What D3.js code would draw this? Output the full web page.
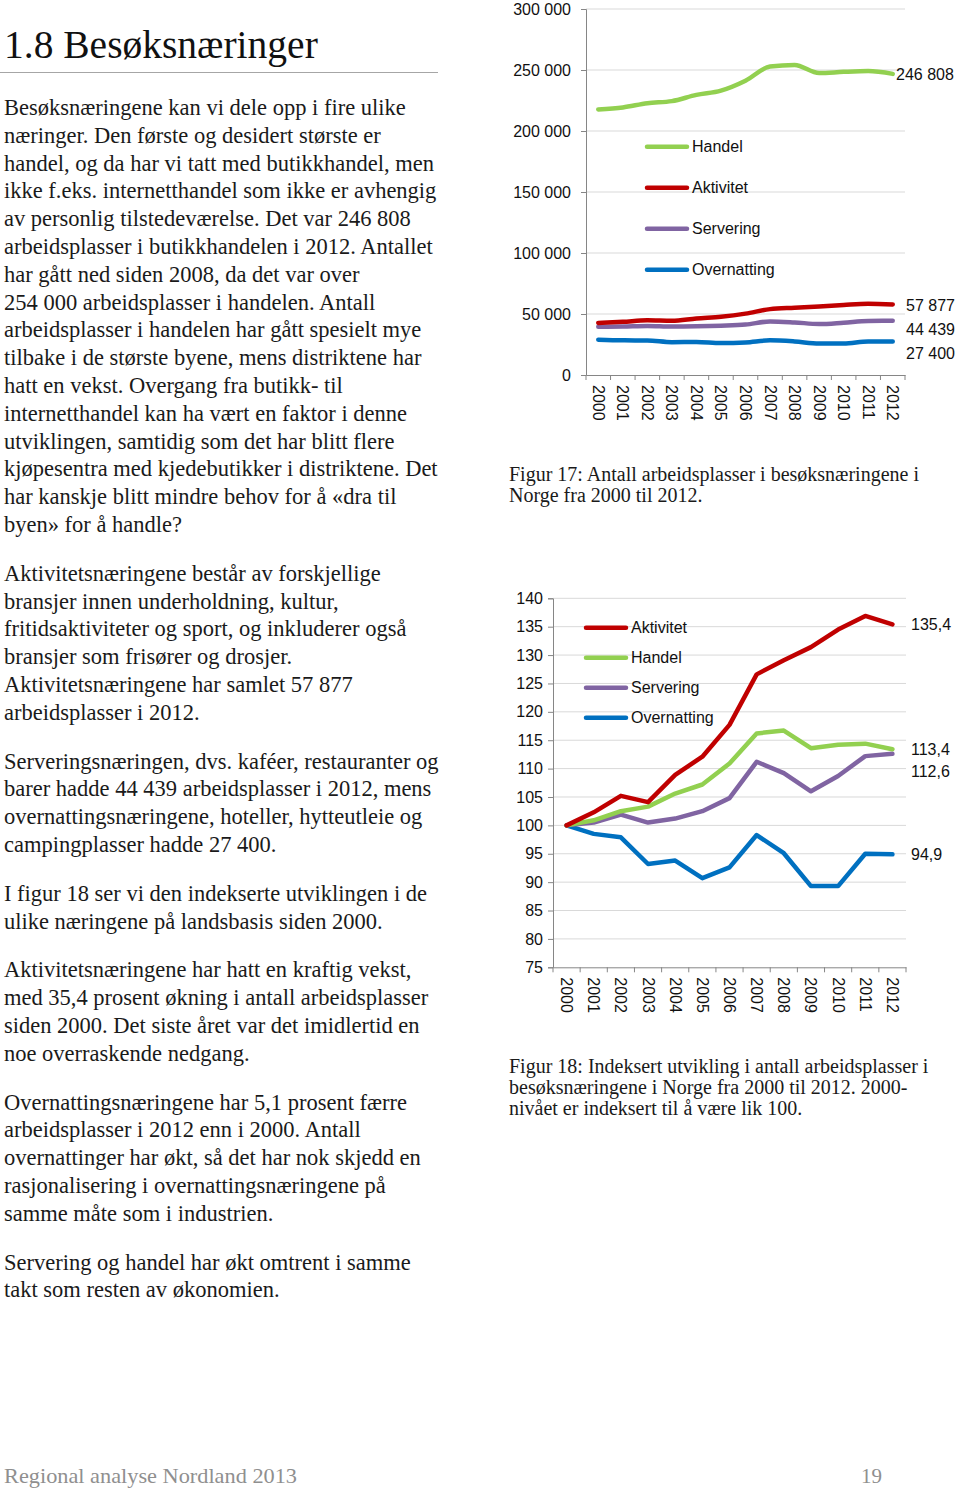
<!DOCTYPE html>
<html><head><meta charset="utf-8">
<script src="https://cdn.jsdelivr.net/npm/d3@7"></script>
<style>body{margin:0;background:#fff} svg{display:block}</style>
</head><body><svg id="c" width="960" height="1488"></svg>
<script>
// ---------- DATA ----------
const years = [2000,2001,2002,2003,2004,2005,2006,2007,2008,2009,2010,2011,2012];

// Figur 17: absolute number of jobs
const handelAbs      = [217700,219300,222800,224500,229600,233100,241200,252800,254100,247500,248500,249100,246808];
const aktivitetAbs   = [42700,43600,44800,44400,46400,47800,50300,54000,55100,56100,57400,58400,57877];
const serveringAbs   = [39500,39700,40200,39700,39900,40400,41300,43900,43100,41800,42900,44300,44439];
const overnattingAbs = [28900,28400,28300,26900,27100,26200,26700,28400,27500,25800,25800,27400,27400];
const absTicks = [0,50000,100000,150000,200000,250000,300000];
const absEndLabels = ["246 808","57 877","44 439","27 400"];

// Figur 18: indexed (2000 = 100)
const aktivitetIdx   = [100,102.3,105.2,104.1,108.9,112.1,117.7,126.6,129.1,131.4,134.5,136.9,135.4];
const handelIdx      = [100,100.9,102.5,103.3,105.6,107.2,110.9,116.2,116.7,113.6,114.2,114.4,113.4];
const serveringIdx   = [100,100.5,101.9,100.5,101.2,102.5,104.8,111.2,109.2,106.0,108.7,112.2,112.6];
const overnattingIdx = [100,98.5,97.9,93.2,93.8,90.7,92.6,98.3,95.1,89.3,89.3,95.0,94.9];
const idxTicks = [75,80,85,90,95,100,105,110,115,120,125,130,135,140];
const idxEndLabels = ["135,4","113,4","112,6","94,9"];

const legendTop = ["Handel","Aktivitet","Servering","Overnatting"];
const legendBottom = ["Aktivitet","Handel","Servering","Overnatting"];

const title = "1.8 Besøksnæringer";
const paragraphs = [
 ["Besøksnæringene kan vi dele opp i fire ulike",
  "næringer. Den første og desidert største er",
  "handel, og da har vi tatt med butikkhandel, men",
  "ikke f.eks. internetthandel som ikke er avhengig",
  "av personlig tilstedeværelse. Det var 246 808",
  "arbeidsplasser i butikkhandelen i 2012. Antallet",
  "har gått ned siden 2008, da det var over",
  "254 000 arbeidsplasser i handelen. Antall",
  "arbeidsplasser i handelen har gått spesielt mye",
  "tilbake i de største byene, mens distriktene har",
  "hatt en vekst. Overgang fra butikk- til",
  "internetthandel kan ha vært en faktor i denne",
  "utviklingen, samtidig som det har blitt flere",
  "kjøpesentra med kjedebutikker i distriktene. Det",
  "har kanskje blitt mindre behov for å «dra til",
  "byen» for å handle?"],
 ["Aktivitetsnæringene består av forskjellige",
  "bransjer innen underholdning, kultur,",
  "fritidsaktiviteter og sport, og inkluderer også",
  "bransjer som frisører og drosjer.",
  "Aktivitetsnæringene har samlet 57 877",
  "arbeidsplasser i 2012."],
 ["Serveringsnæringen, dvs. kaféer, restauranter og",
  "barer hadde 44 439 arbeidsplasser i 2012, mens",
  "overnattingsnæringene, hoteller, hytteutleie og",
  "campingplasser hadde 27 400."],
 ["I figur 18 ser vi den indekserte utviklingen i de",
  "ulike næringene på landsbasis siden 2000."],
 ["Aktivitetsnæringene har hatt en kraftig vekst,",
  "med 35,4 prosent økning i antall arbeidsplasser",
  "siden 2000. Det siste året var det imidlertid en",
  "noe overraskende nedgang."],
 ["Overnattingsnæringene har 5,1 prosent færre",
  "arbeidsplasser i 2012 enn i 2000. Antall",
  "overnattinger har økt, så det har nok skjedd en",
  "rasjonalisering i overnattingsnæringene på",
  "samme måte som i industrien."],
 ["Servering og handel har økt omtrent i samme",
  "takt som resten av økonomien."]
];
const caption17 = ["Figur 17: Antall arbeidsplasser i besøksnæringene i","Norge fra 2000 til 2012."];
const caption18 = ["Figur 18: Indeksert utvikling i antall arbeidsplasser i","besøksnæringene i Norge fra 2000 til 2012. 2000-","nivået er indeksert til å være lik 100."];
const footerLeft = "Regional analyse Nordland 2013";
const footerRight = "19";

// ---------- STYLE ----------
const C = {Handel:"#92d050", Aktivitet:"#c00000", Servering:"#8064a2", Overnatting:"#0070c0"};
const serif = "'Liberation Serif','DejaVu Serif',serif";
const sans = "'Liberation Sans',Arial,sans-serif";
const svg = d3.select("#c");
const loc = d3.formatLocale({decimal:",", thousands:" ", grouping:[3], currency:["",""]});
const fmt = loc.format(",d");

// ---------- LEFT TEXT ----------
svg.append("text").attr("x",4).attr("y",58).attr("font-family",serif).attr("font-size",39.5)
  .attr("fill","#111").text(title);
svg.append("line").attr("x1",0).attr("x2",438).attr("y1",72.5).attr("y2",72.5)
  .attr("stroke","#a6a6a6").attr("stroke-width",1.2);
let yb = 115;
const LH = 27.8, PG = 21;
paragraphs.forEach((p,pi)=>{
  p.forEach((line,li)=>{
    svg.append("text").attr("x",4).attr("y",yb).attr("font-family",serif).attr("font-size",22.5)
      .attr("fill","#1a1a1a").text(line);
    yb += LH;
  });
  yb += PG;
});
svg.append("text").attr("x",4).attr("y",1483).attr("font-family",serif).attr("font-size",21)
  .attr("fill","#8f8f8f").attr("textLength",293).attr("lengthAdjust","spacingAndGlyphs").text(footerLeft);
svg.append("text").attr("x",882).attr("y",1483).attr("text-anchor","end").attr("font-family",serif).attr("font-size",21)
  .attr("fill","#8f8f8f").text(footerRight);

// ---------- CHART HELPER ----------
function chart(o){
  const g = svg.append("g");
  const x = d3.scaleBand().domain(years).range([o.x0,o.x1]);
  const y = d3.scaleLinear().domain(o.dom).range([o.y0,o.y1]);
  g.selectAll(".grid").data(o.ticks.filter(t=>t!==o.dom[0])).join("line")
    .attr("x1",o.x0).attr("x2",o.x1).attr("y1",d=>y(d)).attr("y2",d=>y(d))
    .attr("stroke","#d9d9d9").attr("stroke-width",1);
  const ya = g.append("g").attr("transform",`translate(${o.x0},0)`)
    .call(d3.axisLeft(y).tickValues(o.ticks).tickSize(5).tickPadding(o.tpad).tickFormat(o.tf));
  ya.select(".domain").attr("stroke","#868686");
  ya.selectAll(".tick line").attr("stroke","#868686");
  ya.selectAll("text").attr("font-family",sans).attr("font-size",16).attr("fill","#111");
  const xa = g.append("g").attr("transform",`translate(0,${o.y0})`)
    .call(d3.axisBottom(x).tickSize(0).tickFormat(d=>d));
  xa.select(".domain").attr("stroke","#868686");
  xa.selectAll(".tick text").attr("font-family",sans).attr("font-size",16).attr("fill","#111")
    .attr("text-anchor","start").attr("dy",null)
    .attr("transform","translate(0,"+o.ylab+") rotate(90)").attr("y",0).attr("x",0)
    .attr("dominant-baseline","central");
  const bounds = years.map(d=>x(d)).concat([o.x1]);
  g.selectAll(".xt").data(bounds).join("line")
    .attr("x1",d=>d).attr("x2",d=>d).attr("y1",o.y0).attr("y2",o.y0+5)
    .attr("stroke","#868686");
  const line = d3.line().x((d,i)=>x(years[i])+x.bandwidth()/2).y(d=>y(d)).curve(o.curve);
  o.series.forEach(s=>{
    g.append("path").datum(s.v).attr("d",line).attr("fill","none")
      .attr("stroke",C[s.n]).attr("stroke-width",4.5).attr("stroke-linejoin","round").attr("stroke-linecap","round");
  });
  o.legend.forEach((n,i)=>{
    const ly = o.ly + i*o.lstep;
    g.append("line").attr("x1",o.lx).attr("x2",o.lx+40).attr("y1",ly).attr("y2",ly)
      .attr("stroke",C[n]).attr("stroke-width",4.5).attr("stroke-linecap","round");
    g.append("text").attr("x",o.lx+45).attr("y",ly).attr("dominant-baseline","central")
      .attr("font-family",sans).attr("font-size",16).attr("fill","#111").text(n);
  });
  o.ends.forEach(e=>{
    g.append("text").attr("x",e.x).attr("y",y(e.v)+e.dy).attr("dominant-baseline","central")
      .attr("font-family",sans).attr("font-size",16).attr("fill","#111").text(e.t);
  });
}

chart({
  x0:586, x1:905, y0:375, y1:9, dom:[0,300000], ticks:absTicks, tf:fmt, tpad:10, ylab:10,
  curve:d3.curveMonotoneX,
  series:[{n:"Overnatting",v:overnattingAbs},{n:"Servering",v:serveringAbs},{n:"Aktivitet",v:aktivitetAbs},{n:"Handel",v:handelAbs}],
  legend:legendTop, lx:647, ly:146.7, lstep:41,
  ends:[{t:absEndLabels[0],v:handelAbs[12],x:896,dy:1},
        {t:absEndLabels[1],v:aktivitetAbs[12],x:906,dy:1.5},
        {t:absEndLabels[2],v:serveringAbs[12],x:906,dy:8.5},
        {t:absEndLabels[3],v:overnattingAbs[12],x:906,dy:11.5}]
});

chart({
  x0:553, x1:906, y0:967.3, y1:598.3, dom:[75,140], ticks:idxTicks, tf:d=>d, tpad:5, ylab:10,
  curve:d3.curveLinear,
  series:[{n:"Overnatting",v:overnattingIdx},{n:"Servering",v:serveringIdx},{n:"Handel",v:handelIdx},{n:"Aktivitet",v:aktivitetIdx}],
  legend:legendBottom, lx:586, ly:627.7, lstep:30,
  ends:[{t:idxEndLabels[0],v:aktivitetIdx[12],x:911,dy:0.5},
        {t:idxEndLabels[1],v:handelIdx[12],x:911,dy:0.5},
        {t:idxEndLabels[2],v:serveringIdx[12],x:911,dy:18},
        {t:idxEndLabels[3],v:overnattingIdx[12],x:911,dy:0.5}]
});

caption17.forEach((l,i)=>svg.append("text").attr("x",509).attr("y",481+i*21).attr("font-family",serif)
  .attr("font-size",20).attr("fill","#1a1a1a").text(l));
caption18.forEach((l,i)=>svg.append("text").attr("x",509).attr("y",1073+i*21).attr("font-family",serif)
  .attr("font-size",20).attr("fill","#1a1a1a").text(l));
</script></body></html>
